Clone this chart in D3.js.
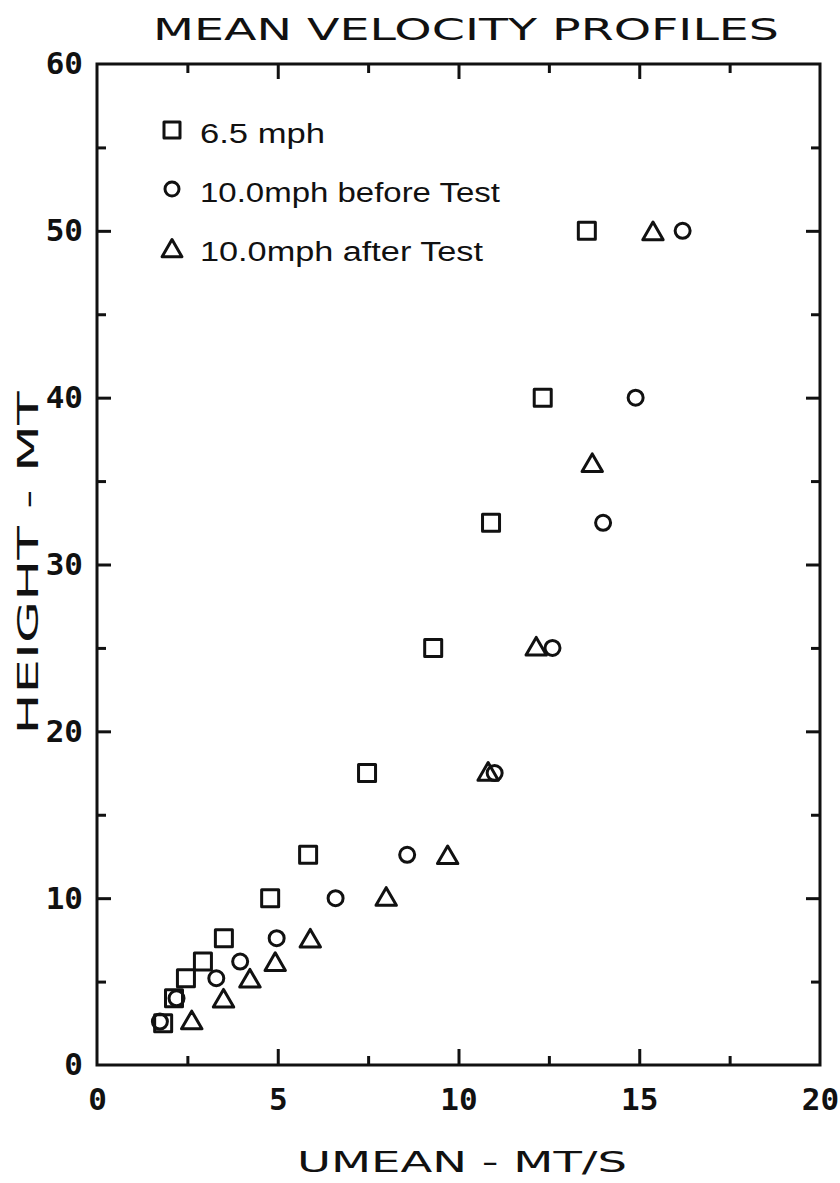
<!DOCTYPE html>
<html>
<head>
<meta charset="utf-8">
<script src="https://cdn.jsdelivr.net/npm/d3@7"></script>
<style>
  body { margin: 0; background: #fff; }
  svg { display: block; }
</style>
</head>
<body>
<svg id="chart"></svg>
<script>
// values
const heightsSq  = [2.5, 4.0, 5.2, 6.2, 7.6, 10.0, 12.6, 17.5, 25.0, 32.5, 40.0, 50.0];
const umeanSq    = [1.83, 2.13, 2.46, 2.93, 3.51, 4.79, 5.84, 7.47, 9.3, 10.9, 12.33, 13.55];

const heightsCirc = [2.6, 4.0, 5.2, 6.2, 7.6, 10.0, 12.6, 17.5, 25.0, 32.5, 40.0, 50.0];
const umeanCirc   = [1.74, 2.2, 3.3, 3.96, 4.97, 6.6, 8.58, 11.0, 12.6, 14.0, 14.9, 16.2];

const heightsTri = [2.7, 4.0, 5.2, 6.2, 7.6, 10.1, 12.6, 17.6, 25.1, 36.1, 50.0];
const umeanTri   = [2.62, 3.5, 4.23, 4.93, 5.9, 8.0, 9.7, 10.82, 12.15, 13.7, 15.38];

const legendLabels = ["6.5 mph", "10.0mph before Test", "10.0mph after Test"];
const xTicksMajor = [5, 10, 15];
const xTicksMinor = [2.5, 7.5, 12.5, 17.5];
const xTickLabels = [0, 5, 10, 15, 20];
const yTicksMajor = [10, 20, 30, 40, 50];
const yTicksMinor = [5, 15, 25, 35, 45, 55];
const yTickLabels = [0, 10, 20, 30, 40, 50, 60];

const W = 840, H = 1183;
const plotL = 97, plotR = 820, plotT = 64, plotB = 1065;

var svg = d3.select("#chart").attr("width", W).attr("height", H);

var x = d3.scaleLinear().domain([0, 20]).range([plotL, plotR]);
var y = d3.scaleLinear().domain([0, 60]).range([plotB, plotT]);

var ink = "#111";
var monoFont = "'DejaVu Sans Mono', monospace";
var plotFont = "'DejaVu Sans', sans-serif";

// title and axis titles
svg.append("text")
    .attr("x", 466).attr("y", 40)
    .attr("text-anchor", "middle")
    .attr("font-family", plotFont).attr("font-size", 30)
    .attr("textLength", 626).attr("lengthAdjust", "spacingAndGlyphs")
    .attr("fill", ink)
    .text("MEAN VELOCITY PROFILES");

svg.append("text")
    .attr("x", 462).attr("y", 1172)
    .attr("text-anchor", "middle")
    .attr("font-family", plotFont).attr("font-size", 28)
    .attr("textLength", 330).attr("lengthAdjust", "spacingAndGlyphs")
    .attr("fill", ink)
    .text("UMEAN - MT/S");

svg.append("text")
    .attr("transform", "translate(38,563) rotate(-90)")
    .attr("text-anchor", "middle")
    .attr("font-family", plotFont).attr("font-size", 29)
    .attr("textLength", 343).attr("lengthAdjust", "spacingAndGlyphs")
    .attr("fill", ink)
    .text("HEIGHT - MT");

// frame
svg.append("rect")
    .attr("x", plotL).attr("y", plotT)
    .attr("width", plotR - plotL).attr("height", plotB - plotT)
    .attr("fill", "none").attr("stroke", ink).attr("stroke-width", 3);

function tickStyle(g) {
    g.select(".domain").remove();
    g.selectAll("line").attr("stroke", ink).attr("stroke-width", 3);
}

function inward(axisFn, scale, vals, len, pos, isX) {
    var a = axisFn(scale).tickValues(vals).tickSize(len).tickFormat("");
    svg.append("g")
        .attr("transform", isX ? "translate(0," + pos + ")" : "translate(" + pos + ",0)")
        .call(a).call(tickStyle);
}

// ticks point into the plot on all four sides
inward(d3.axisBottom, x, xTicksMajor, -16, plotB, true);
inward(d3.axisBottom, x, xTicksMinor, -9, plotB, true);
inward(d3.axisTop, x, xTicksMajor, -15, plotT, true);
inward(d3.axisTop, x, xTicksMinor, -9, plotT, true);
inward(d3.axisLeft, y, yTicksMajor, -14, plotL, false);
inward(d3.axisLeft, y, yTicksMinor, -9, plotL, false);
inward(d3.axisRight, y, yTicksMajor, -14, plotR, false);
inward(d3.axisRight, y, yTicksMinor, -9, plotR, false);

// tick labels
var xLab = svg.append("g")
    .attr("transform", "translate(0," + plotB + ")")
    .call(d3.axisBottom(x).tickValues(xTickLabels).tickSize(0).tickPadding(23).tickFormat(d3.format("d")));
xLab.select(".domain").remove();
xLab.selectAll("text")
    .attr("font-family", monoFont).attr("font-size", 31).attr("font-weight", "bold").attr("fill", ink);

var yLab = svg.append("g")
    .attr("transform", "translate(" + plotL + ",0)")
    .call(d3.axisLeft(y).tickValues(yTickLabels).tickSize(0).tickPadding(14).tickFormat(d3.format("d")));
yLab.select(".domain").remove();
yLab.selectAll("text")
    .attr("font-family", monoFont).attr("font-size", 31).attr("font-weight", "bold").attr("fill", ink);

// markers
var sqSym = d3.symbol().type(d3.symbolSquare).size(17 * 17);
var circSym = d3.symbol().type(d3.symbolCircle).size(Math.PI * 7.5 * 7.5);
var triSize = 180;
var triSym = d3.symbol().type(d3.symbolTriangle).size(triSize);
// d3 triangle sits on its centroid; shift so its box centre lands on the value
var triShift = Math.sqrt(triSize / (Math.sqrt(3) * 3)) / 2;

function markerStyle(sel) {
    return sel.attr("fill", "none").attr("stroke", ink).attr("stroke-width", 3)
        .attr("stroke-linejoin", "round");
}

var sqData = umeanSq.map((u, i) => ({ u: u, h: heightsSq[i] }));
var circData = umeanCirc.map((u, i) => ({ u: u, h: heightsCirc[i] }));
var triData = umeanTri.map((u, i) => ({ u: u, h: heightsTri[i] }));

svg.append("g").selectAll("path").data(sqData).join("path")
    .attr("d", sqSym)
    .attr("transform", d => "translate(" + x(d.u) + "," + y(d.h) + ")")
    .call(markerStyle);

svg.append("g").selectAll("path").data(circData).join("path")
    .attr("d", circSym)
    .attr("transform", d => "translate(" + x(d.u) + "," + y(d.h) + ")")
    .call(markerStyle);

svg.append("g").selectAll("path").data(triData).join("path")
    .attr("d", triSym)
    .attr("transform", d => "translate(" + x(d.u) + "," + (y(d.h) + triShift) + ")")
    .call(markerStyle);

// legend
var legSyms = [
    d3.symbol().type(d3.symbolSquare).size(16 * 16),
    d3.symbol().type(d3.symbolCircle).size(Math.PI * 7 * 7),
    d3.symbol().type(d3.symbolTriangle).size(170)
];
var legWidths = [125, 300, 283];
var legend = svg.append("g").attr("transform", "translate(172,130)");
legendLabels.forEach((lab, i) => {
    var row = legend.append("g").attr("transform", "translate(0," + (i * 59) + ")");
    row.append("path").attr("d", legSyms[i]())
        .attr("transform", i == 2 ? "translate(0,3)" : null)
        .call(markerStyle);
    row.append("text")
        .attr("x", 28).attr("y", 13)
        .attr("font-family", "'Liberation Sans', Arial, sans-serif")
        .attr("font-size", 27)
        .attr("textLength", legWidths[i]).attr("lengthAdjust", "spacingAndGlyphs")
        .attr("fill", ink)
        .text(lab);
});
</script>
</body>
</html>
